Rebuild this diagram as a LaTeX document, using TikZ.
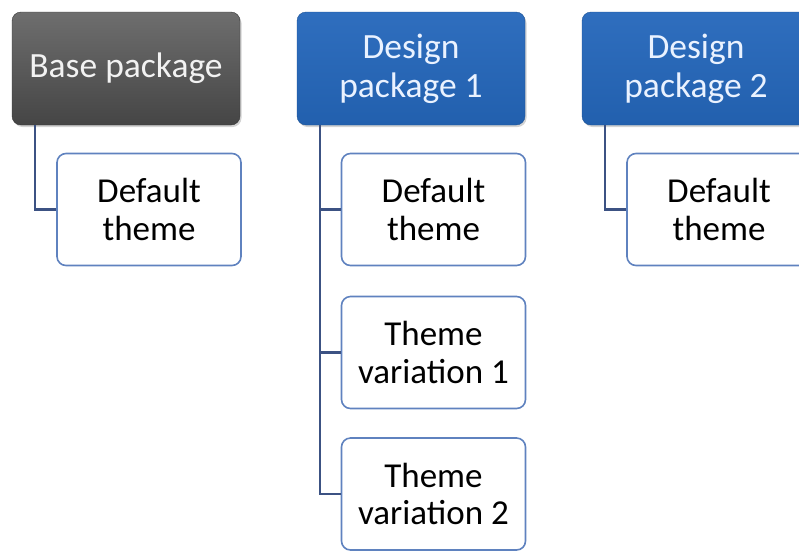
\documentclass[tikz,border=0pt]{standalone}
\usepackage{fontspec}
\setmainfont{Carlito}
\usetikzlibrary{shadows}
\definecolor{grayTop}{HTML}{6E6E6E}
\definecolor{grayBot}{HTML}{454545}
\definecolor{blueTop}{HTML}{2F6EBE}
\definecolor{blueBot}{HTML}{2260AE}
\definecolor{childBorder}{HTML}{5F82BF}
\definecolor{linkCol}{HTML}{3C5283}
\definecolor{parentText}{HTML}{F2F2F2}
\definecolor{blueText}{HTML}{EAF2FF}
\tikzset{
  parentbox/.style={rounded corners=9pt, minimum width=228pt, minimum height=113pt,
    align=center, inner sep=2pt, font=\fontsize{35.5}{39}\selectfont,
    drop shadow={shadow xshift=1.5pt, shadow yshift=-2pt, opacity=0.35}},
  graybox/.style={parentbox, top color=grayTop, bottom color=grayBot, draw=grayBot!80!black, text=parentText},
  bluebox/.style={parentbox, top color=blueTop, bottom color=blueBot, draw=blueBot!85!black, text=blueText},
  childbox/.style={rounded corners=9pt, minimum width=184pt, minimum height=112pt,
    align=center, inner sep=2pt, draw=childBorder, line width=1.6pt, fill=white,
    font=\fontsize{35}{37.5}\selectfont, text=black},
  link/.style={draw=linkCol, line width=2.2pt}
}
\begin{document}
\begin{tikzpicture}[x=1pt, y=-1pt]
\useasboundingbox (0,0) rectangle (799,550);
\clip (0,0) rectangle (799,550);
% parents
\node[graybox] (base) at (126,68.5) {Base package};
\node[bluebox] (dp1) at (411,68.5) {Design\\package 1};
\node[bluebox] (dp2) at (696,68.5) {Design\\package 2};
% children
\node[childbox] (bdef) at (149,209.5) {Default\\theme};
\node[childbox] (d1def) at (433.5,209.5) {Default\\theme};
\node[childbox] (tv1) at (433.5,352.5) {Theme\\variation 1};
\node[childbox] (tv2) at (433.5,494) {Theme\\variation 2};
\node[childbox] (d2def) at (719,209.5) {Default\\theme};
% connectors
\coordinate (bx) at (35,0);
\coordinate (d1x) at (320,0);
\coordinate (d2x) at (605,0);
\draw[link] (bx |- base.south) -- (bx |- bdef.west) -- (bdef.west);
\draw[link] (d1x |- dp1.south) -- (d1x |- tv2.west) -- (tv2.west);
\draw[link] (d1x |- d1def.west) -- (d1def.west);
\draw[link] (d1x |- tv1.west) -- (tv1.west);
\draw[link] (d2x |- dp2.south) -- (d2x |- d2def.west) -- (d2def.west);
\end{tikzpicture}
\end{document}
